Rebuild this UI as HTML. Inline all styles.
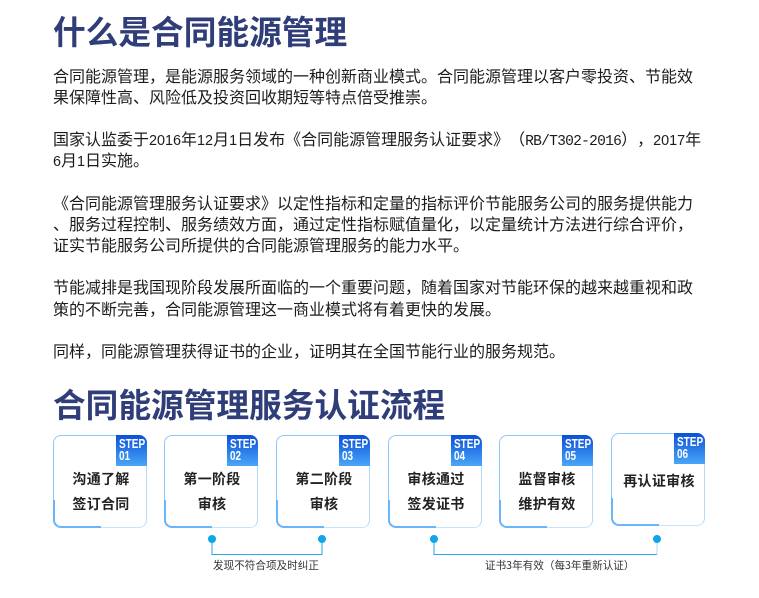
<!DOCTYPE html>
<html><head><meta charset="utf-8">
<style>
html,body{margin:0;padding:0;background:#fff}
#p{position:relative;width:759px;height:598px;overflow:hidden;background:#fff;font-family:"Liberation Sans","Noto Sans CJK SC",sans-serif;text-spacing-trim:space-all;font-kerning:none}
.t{position:absolute;left:53px;white-space:nowrap;font-weight:700;color:#2f3d78;font-size:32.7px;line-height:40px;font-family:"Noto Sans CJK SC",sans-serif}
.l{position:absolute;left:53px;white-space:nowrap;font-size:16px;line-height:22px;color:#1c1c1c;font-family:"Noto Sans CJK SC",sans-serif}
.d{font-family:"Liberation Sans",sans-serif;font-size:14.4px}
.m{font-family:"Liberation Mono",monospace;font-size:14.6px;letter-spacing:-.76px}
.c{position:absolute;width:94px;height:93px;box-sizing:border-box;border:1px solid;border-color:#8ac6fb #b5dafc #c8e3fd #8ac6fb;border-radius:8px;background:#fff}
.c:before{content:"";position:absolute;left:-1px;bottom:-1px;width:48px;height:28px;border-left:2.5px solid #6bb5fa;border-bottom:2.5px solid #6bb5fa;border-bottom-left-radius:8px;box-sizing:border-box}
.b{position:absolute;right:-1px;top:-1px;width:31px;height:31px;background:linear-gradient(#0a50d8,#4aa6f8);color:#fff;font:700 12.5px/11.5px "Liberation Sans",sans-serif;padding:4px 0 0 3px;box-sizing:border-box;border-top-right-radius:8px;overflow:hidden}
.b span{display:block;transform:scaleX(.8);transform-origin:left top;white-space:nowrap}
.x{position:absolute;left:1px;width:92px;text-align:center;font-size:14px;font-weight:700;color:#222;line-height:20px;letter-spacing:.3px;font-family:"Noto Sans CJK SC",sans-serif;white-space:nowrap}
.n{position:absolute;white-space:nowrap;font-size:10.6px;line-height:14px;color:#333;font-family:"Noto Sans CJK SC",sans-serif}
</style></head><body><div id="p">
<div class="t" style="top:11px">什么是合同能源管理</div>
<div class="l" style="top:64px">合同能源管理，是能源服务领域的一种创新商业模式。合同能源管理以客户零投资、节能效</div>
<div class="l" style="top:85px">果保障性高、风险低及投资回收期短等特点倍受推崇。</div>
<div class="l" style="top:127px">国家认监委于<span class="d">2016</span>年<span class="d">12</span>月<span class="d">1</span>日发布《合同能源管理服务认证要求》（<span class="m">RB/T302-2016</span>），<span class="d">2017</span>年</div>
<div class="l" style="top:148px"><span class="d">6</span>月<span class="d">1</span>日实施。</div>
<div class="l" style="top:191px">《合同能源管理服务认证要求》以定性指标和定量的指标评价节能服务公司的服务提供能力</div>
<div class="l" style="top:212px">、服务过程控制、服务绩效方面，通过定性指标赋值量化，以定量统计方法进行综合评价，</div>
<div class="l" style="top:233px">证实节能服务公司所提供的合同能源管理服务的能力水平。</div>
<div class="l" style="top:275px">节能减排是我国现阶段发展所面临的一个重要问题，随着国家对节能环保的越来越重视和政</div>
<div class="l" style="top:297px">策的不断完善，合同能源管理这一商业模式将有着更快的发展。</div>
<div class="l" style="top:339px">同样，同能源管理获得证书的企业，证明其在全国节能行业的服务规范。</div>
<div class="t" style="top:384px">合同能源管理服务认证流程</div>

<div class="c" style="left:53px;top:435px"><div class="b"><span>STEP</span><span>01</span></div><div class="x" style="top:33px">沟通了解</div><div class="x" style="top:58px">签订合同</div></div>
<div class="c" style="left:164px;top:435px"><div class="b"><span>STEP</span><span>02</span></div><div class="x" style="top:33px">第一阶段</div><div class="x" style="top:58px">审核</div></div>
<div class="c" style="left:276px;top:435px"><div class="b"><span>STEP</span><span>03</span></div><div class="x" style="top:33px">第二阶段</div><div class="x" style="top:58px">审核</div></div>
<div class="c" style="left:388px;top:435px"><div class="b"><span>STEP</span><span>04</span></div><div class="x" style="top:33px">审核通过</div><div class="x" style="top:58px">签发证书</div></div>
<div class="c" style="left:499px;top:435px"><div class="b"><span>STEP</span><span>05</span></div><div class="x" style="top:33px">监督审核</div><div class="x" style="top:58px">维护有效</div></div>
<div class="c" style="left:611px;top:433px"><div class="b"><span>STEP</span><span>06</span></div><div class="x" style="top:37px">再认证审核</div></div>

<svg style="position:absolute;left:0;top:0" width="759" height="598">
<path d="M212 539V554.5H322V539" fill="none" stroke="#2aa5e8" stroke-width="1"/>
<path d="M434 539V554.5H657" fill="none" stroke="#2aa5e8" stroke-width="1"/>
<path d="M657 554.5V539" fill="none" stroke="#a5dcf5" stroke-width="1"/>
<circle cx="212" cy="539" r="4" fill="#0ea5e9"/><circle cx="322" cy="539" r="4" fill="#0ea5e9"/>
<circle cx="434" cy="539" r="4" fill="#0ea5e9"/><circle cx="657" cy="539" r="4" fill="#0ea5e9"/>
</svg>
<div class="n" style="left:213px;top:559px">发现不符合项及时纠正</div>
<div class="n" style="left:485px;top:559px">证书3年有效（每3年重新认证）</div>
</div></body></html>
